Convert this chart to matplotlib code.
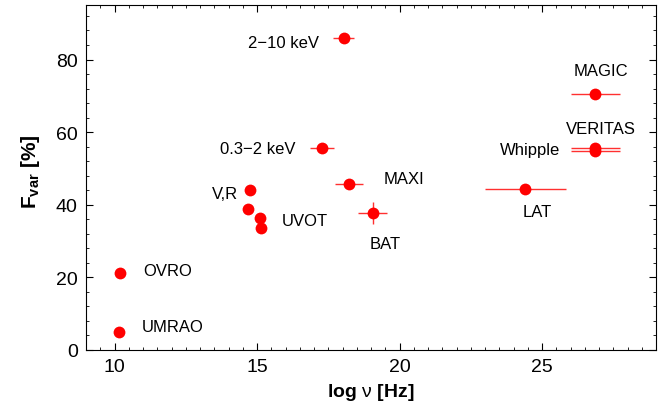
import numpy as np
import matplotlib
matplotlib.use("Agg")
import matplotlib.pyplot as plt
from matplotlib.ticker import MultipleLocator

plt.rcParams['font.family'] = ['Liberation Sans', 'DejaVu Sans']
plt.rcParams['mathtext.fontset'] = 'custom'
plt.rcParams['mathtext.rm'] = 'Liberation Sans'
plt.rcParams['mathtext.bf'] = 'Liberation Sans:bold'
plt.rcParams['mathtext.it'] = 'Liberation Sans'

# data
bands = ['UMRAO', 'OVRO', 'V', 'R', 'UVOT1', 'UVOT2', '0.3-2 keV', '2-10 keV',
         'MAXI', 'BAT', 'LAT', 'MAGIC', 'VERITAS', 'Whipple']
log_nu = np.array([10.15, 10.18, 14.74, 14.69, 15.12, 15.15, 17.27, 18.04,
                   18.22, 19.06, 24.41, 26.87, 26.87, 26.87])
fvar = np.array([4.8, 21.1, 44.1, 38.8, 36.4, 33.6, 55.7, 85.8,
                 45.8, 37.7, 44.4, 70.6, 55.6, 54.9])
nu_err = np.array([0, 0, 0, 0, 0, 0, 0.42, 0.36,
                   0.5, 0.51, 1.42, 0.86, 0.86, 0.86])
fvar_err = np.array([0, 0, 0, 0, 0, 0, 0, 0,
                     0, 3.0, 0, 0, 0, 0])

# text labels: (text, x, y, ha)
labels = [
    ('2\u221210 keV', 17.16, 84.8, 'right'),
    ('0.3\u22122 keV', 16.35, 55.5, 'right'),
    ('MAXI', 19.44, 47.2, 'left'),
    ('BAT', 19.49, 29.2, 'center'),
    ('LAT', 24.84, 38.1, 'center'),
    ('MAGIC', 27.05, 77.1, 'center'),
    ('VERITAS', 27.05, 61.0, 'center'),
    ('Whipple', 25.65, 55.2, 'right'),
    ('V,R', 14.35, 43.0, 'right'),
    ('UVOT', 15.86, 35.6, 'left'),
    ('OVRO', 11.02, 21.8, 'left'),
    ('UMRAO', 10.95, 6.3, 'left'),
]

fig = plt.figure(figsize=(6.62, 4.06), dpi=100)
ax = fig.add_axes([0.13, 0.136, 0.861, 0.849])

ax.errorbar(log_nu, fvar, xerr=nu_err, yerr=fvar_err, fmt='o',
            color='red', ecolor='#ff3030', elinewidth=1.0, capsize=0,
            markersize=8.5, markeredgewidth=0)

for txt, x, y, ha in labels:
    ax.text(x, y, txt, ha=ha, va='center', fontsize=12)

ax.set_xlim(9, 29)
ax.set_ylim(0, 95)
ax.xaxis.set_major_locator(MultipleLocator(5))
ax.xaxis.set_minor_locator(MultipleLocator(0.5))
ax.yaxis.set_major_locator(MultipleLocator(20))
ax.yaxis.set_minor_locator(MultipleLocator(4))
ax.tick_params(which='both', direction='in', top=True, right=True,
               labelsize=14, pad=6)
ax.tick_params(which='major', length=5)
ax.tick_params(which='minor', length=2.5)

ax.set_xlabel(r'log $\nu$ [Hz]', fontsize=14, fontweight='bold', labelpad=4)
ax.set_ylabel(r'$\mathbf{F_{var}}$ [%]', fontsize=15, fontweight='bold')
ax.yaxis.set_label_coords(-0.078, 0.52)

plt.savefig('out.png', dpi=100)
